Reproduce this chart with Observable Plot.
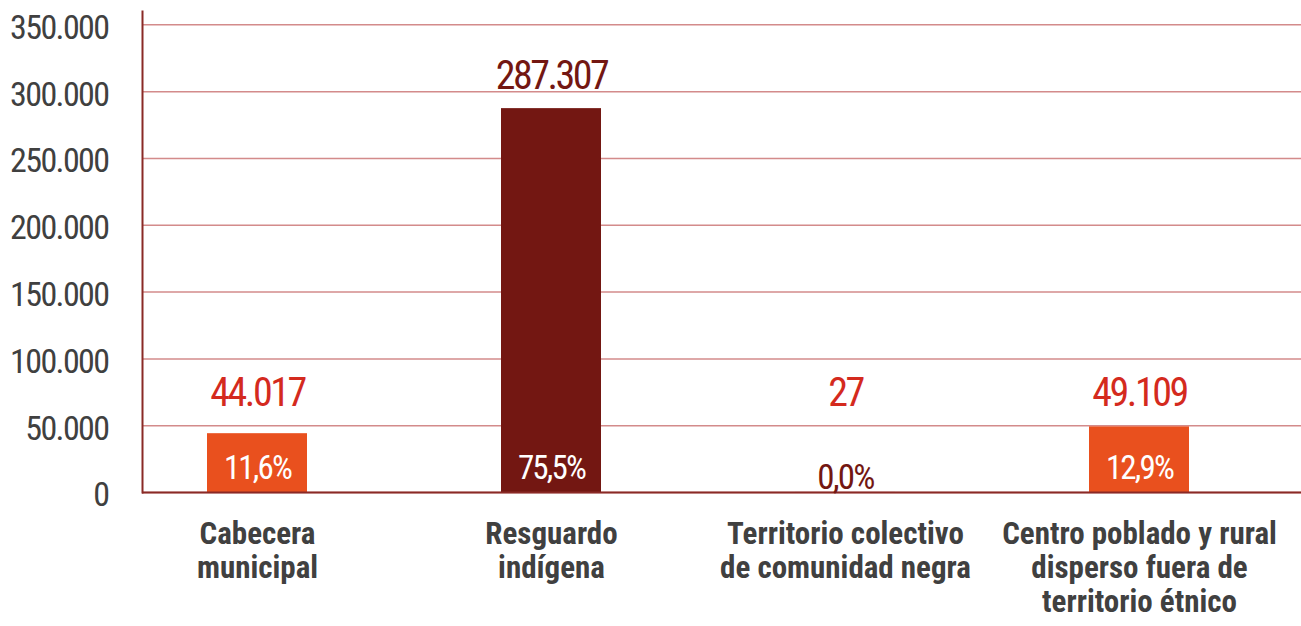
<!DOCTYPE html>
<html>
<head>
<meta charset="utf-8">
<script src="https://cdn.jsdelivr.net/npm/d3@7"></script>
<script src="https://cdn.jsdelivr.net/npm/@observablehq/plot@0.6"></script>
<style>
  html, body { margin: 0; padding: 0; background: #fff; }
  #chart { width: 1301px; height: 626px; overflow: hidden; }
  text[aria-label="vlabel"] { letter-spacing: -2.5px; }
  text[aria-label="plabel"] { letter-spacing: -1.8px; }
  g[aria-label="y-axis tick label"] text { letter-spacing: -1.6px; }
</style>
</head>
<body>
<div id="chart"></div>
<script>
// ---- Data ----
const categories = [
  "Cabecera municipal",
  "Resguardo indígena",
  "Territorio colectivo de comunidad negra",
  "Centro poblado y rural disperso fuera de territorio étnico"
];
const categoryLabels = [
  "Cabecera\nmunicipal",
  "Resguardo\nindígena",
  "Territorio colectivo\nde comunidad negra",
  "Centro poblado y rural\ndisperso fuera de\nterritorio étnico"
];
const values = [44017, 287307, 27, 49109];
const percents = [11.6, 75.5, 0.0, 12.9];
const yTicks = [0, 50000, 100000, 150000, 200000, 250000, 300000, 350000];

// ---- Styles ----
const FONT = "'Liberation Sans Narrow', 'Roboto Condensed', 'Arial Narrow', 'DejaVu Sans Condensed', sans-serif";
const ORANGE = "#E9501E";
const DARKRED = "#731712";
const RED = "#D42A1E";
const GRAY = "#404040";

const loc = d3.formatLocale({decimal: ",", thousands: ".", grouping: [3], currency: ["", ""]});
const fmtInt = loc.format(",d");
const fmtPct = v => loc.format(".1f")(v) + "%";

const data = categories.map((c, i) => ({
  cat: c, value: values[i], pct: percents[i], idx: i
}));

const barColor = {domain: categories, range: [ORANGE, DARKRED, DARKRED, ORANGE]};
const labelFill = d => (d.idx === 1 ? DARKRED : RED);

const chart = Plot.plot({
  width: 1301,
  height: 626,
  marginLeft: 142,
  marginRight: 0,
  marginTop: 11,
  marginBottom: 134,
  style: {fontFamily: FONT, background: "#fff", overflow: "visible"},
  x: {domain: categories, paddingInner: 0.661, paddingOuter: 0.295, align: 0.368, axis: null},
  y: {domain: [0, 360000], axis: null},
  color: barColor,
  marks: [
    Plot.gridY(yTicks, {stroke: "#c05a5a", strokeOpacity: 0.7, strokeWidth: 1.5}),
    Plot.frame({anchor: "left", stroke: "#8a2a26", strokeWidth: 2}),
    Plot.barY(data, {x: "cat", y: "value", fill: "cat"}),
    Plot.ruleY([0], {stroke: "#8a2a26", strokeWidth: 2}),
    Plot.axisY(yTicks, {
      tickSize: 0, tickPadding: 34, tickFormat: fmtInt, fontSize: 34,
      color: GRAY, fill: GRAY, dy: 3, label: null
    }),
    Plot.axisX({
      tickSize: 0, tickPadding: 27, fontSize: 31, fontWeight: "bold",
      lineHeight: 1.1, color: GRAY, fill: GRAY, label: null,
      tickFormat: d => categoryLabels[categories.indexOf(d)]
    }),
    Plot.text(data, {
      x: "cat", y: d => Math.max(d.value, 50000), text: d => fmtInt(d.value),
      dy: -20, lineAnchor: "bottom", fontSize: 40, fill: labelFill,
      ariaLabel: () => "vlabel"
    }),
    Plot.text(data.filter(d => d.value >= 10000), {
      x: "cat", y: 0, text: d => fmtPct(d.pct),
      dy: -14, lineAnchor: "bottom", fontSize: 33, fill: "#fff",
      ariaLabel: () => "plabel"
    }),
    Plot.text(data.filter(d => d.value < 10000), {
      x: "cat", y: 0, text: d => fmtPct(d.pct),
      dy: -4, lineAnchor: "bottom", fontSize: 35, fill: DARKRED,
      ariaLabel: () => "plabel"
    })
  ]
});
document.getElementById("chart").appendChild(chart);
</script>
</body>
</html>
